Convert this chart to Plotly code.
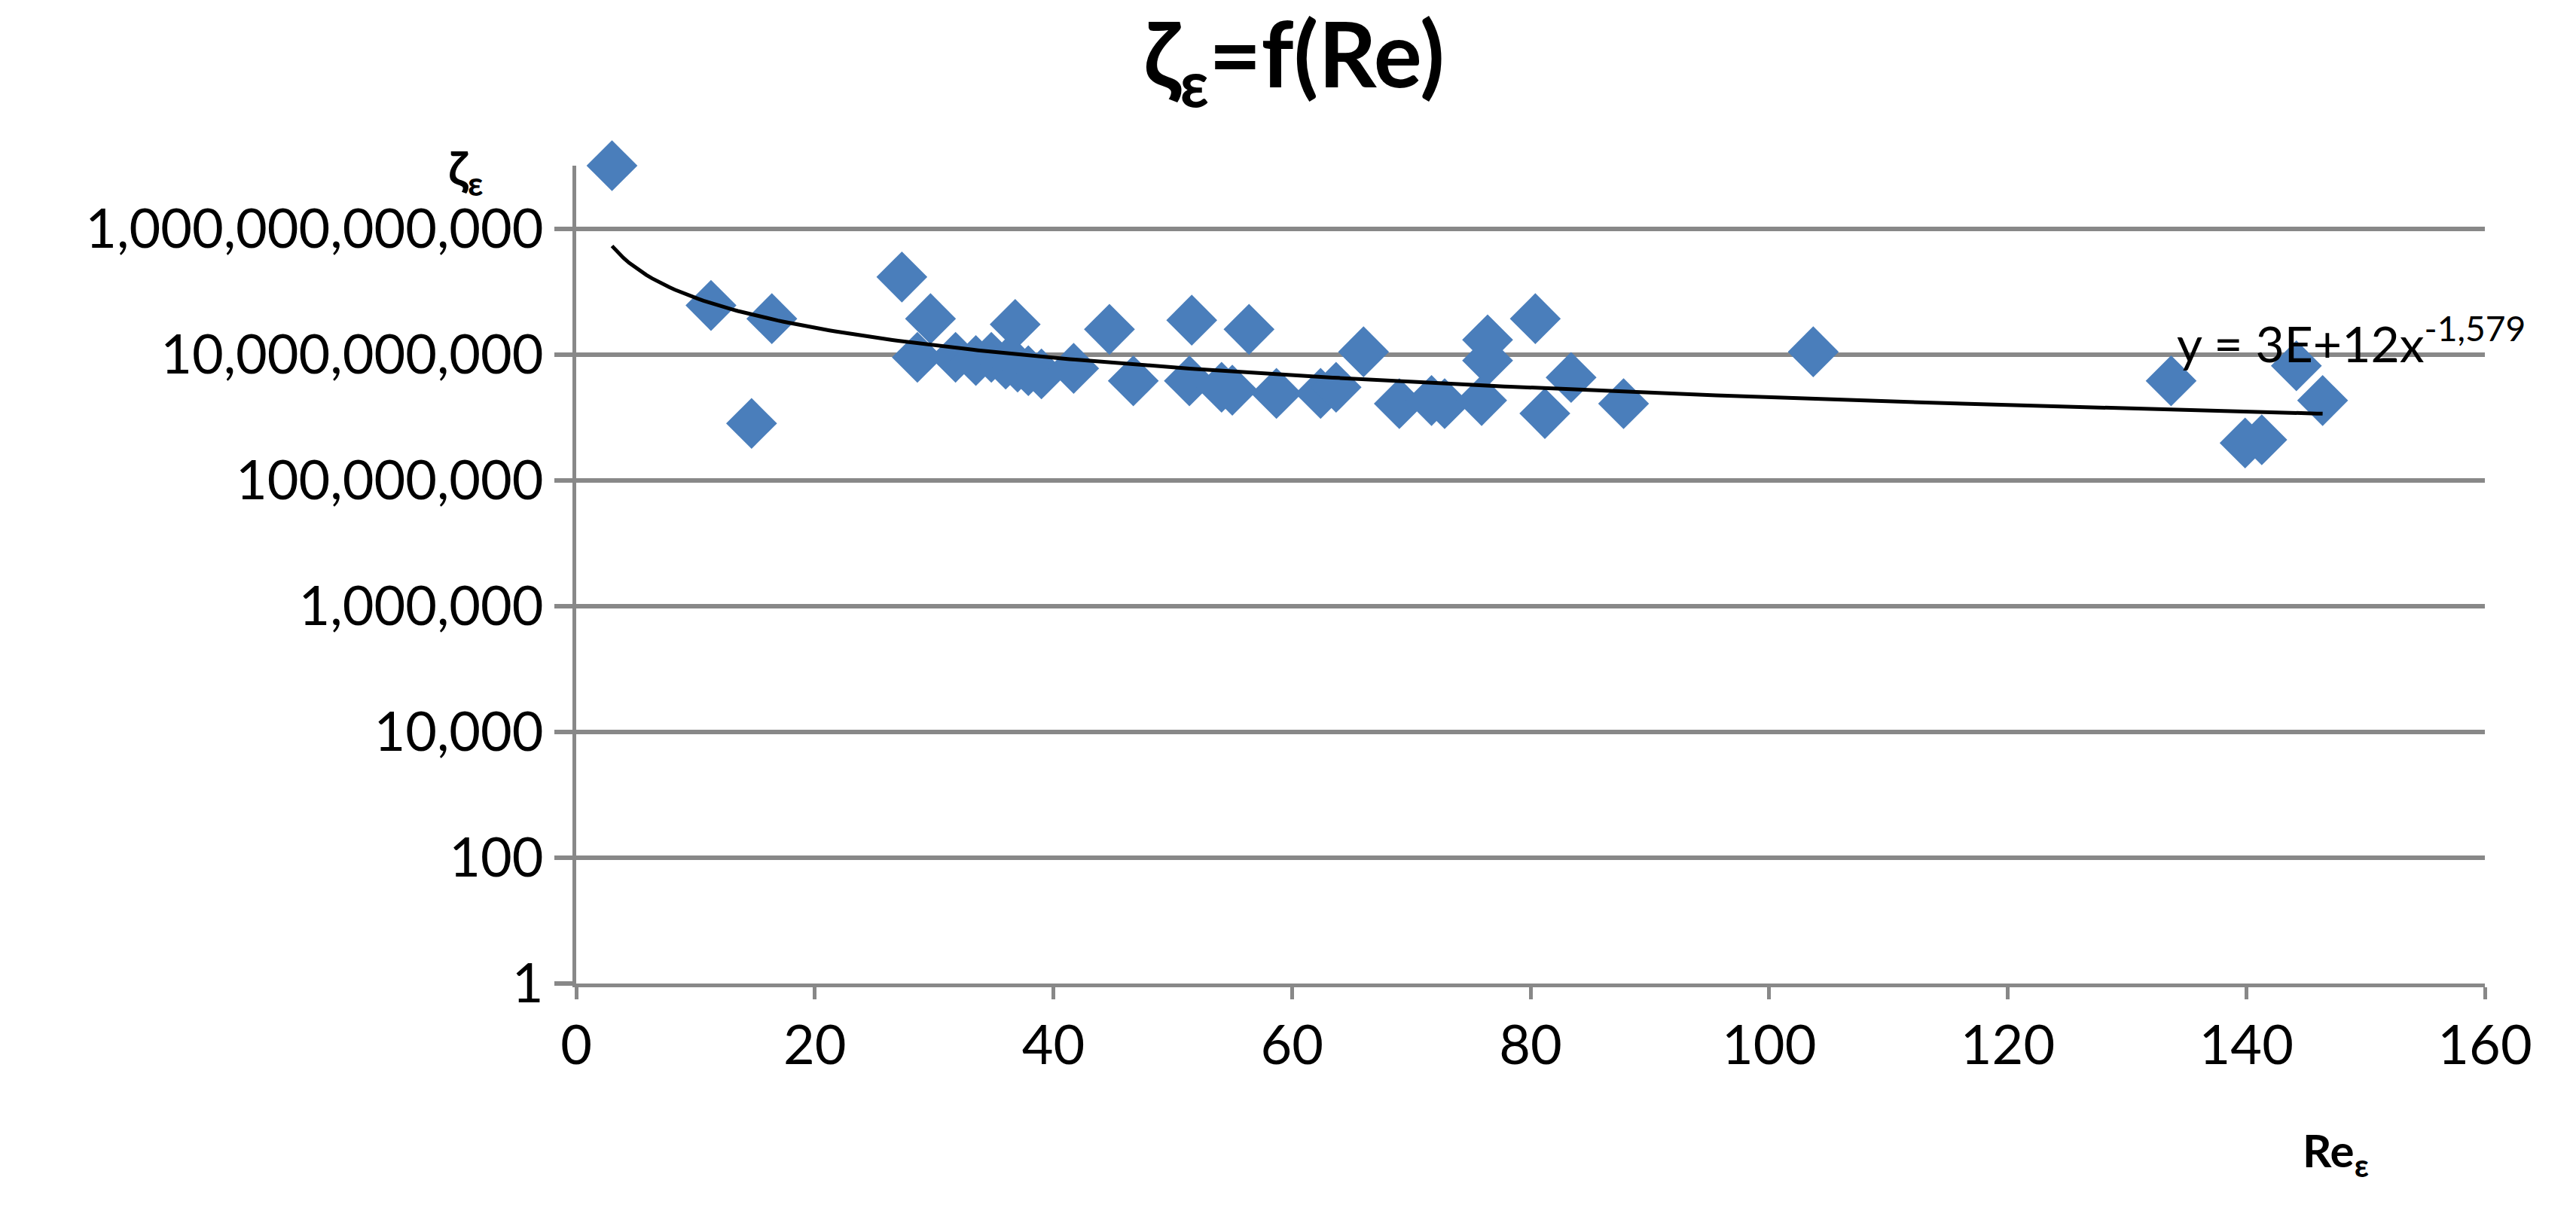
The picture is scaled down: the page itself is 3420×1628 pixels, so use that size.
import numpy as np
import plotly.graph_objects as go

re_vals = [3.0, 11.3, 14.7, 16.4, 27.3, 28.6, 29.7, 31.8, 33.5, 34.8, 36.0, 36.8, 37.0, 37.9, 39.0,
           41.7, 44.7, 46.7, 51.4, 51.6, 54.1, 55.0, 56.4, 58.7, 62.4, 63.7, 66.0, 69.0, 71.7, 72.8,
           75.9, 76.4, 76.4, 80.4, 81.2, 83.4, 87.8, 103.7, 133.7, 139.9, 141.3, 144.2, 146.4]
zeta_vals = [1.0e13, 6.0e10, 8.0e8, 3.7e10, 1.7e11, 9.0e9, 3.7e10, 9.0e9, 8.0e9, 9.0e9, 7.0e9, 3.0e10,
             6.3e9, 5.5e9, 4.9e9, 6.0e9, 2.5e10, 3.8e9, 3.8e9, 3.5e10, 3.0e9, 2.7e9, 2.5e10, 2.4e9,
             2.4e9, 3.0e9, 1.1e10, 1.65e9, 1.85e9, 1.65e9, 1.85e9, 8.0e9, 1.7e10, 3.7e10, 1.15e9,
             4.3e9, 1.65e9, 1.1e10, 3.8e9, 3.9e8, 4.4e8, 6.6e9, 1.85e9]
fit_a = 3e12
fit_b = -1.579
tick_vals = [1, 100, 10000, 1e6, 1e8, 1e10, 1e12]
tick_text = ["1", "100", "10,000", "1,000,000", "100,000,000", "10,000,000,000", "1,000,000,000,000"]

xf = np.linspace(min(re_vals), max(re_vals), 300)
yf = fit_a * xf ** fit_b

fig = go.Figure()
fig.add_trace(go.Scatter(x=re_vals, y=zeta_vals, mode="markers", cliponaxis=False,
                         marker=dict(symbol="diamond", size=52, color="#4a7ebb",
                                     line=dict(width=0)), showlegend=False))
fig.add_trace(go.Scatter(x=xf, y=yf, mode="lines", line=dict(color="black", width=5),
                         showlegend=False))

font = "Lato"
fig.update_layout(
    width=3420, height=1628, paper_bgcolor="white", plot_bgcolor="white",
    margin=dict(l=757, r=129, t=212, b=330),
    font=dict(family=font, size=72, color="black"),
    title=dict(text="<b>ζ<sub>ε</sub>=f(Re)</b>", x=0.5, xanchor="center", y=0.985, yanchor="top",
               font=dict(size=120, family=font)),
    xaxis=dict(range=[0, 160], tickvals=list(range(0, 161, 20)), showgrid=False,
               showline=True, linecolor="#888888", linewidth=5, ticks="outside",
               ticklen=16, tickwidth=5, tickcolor="#888888", zeroline=False,
               tickfont=dict(size=72)),
    yaxis=dict(type="log", range=[0, 13], tickvals=tick_vals, ticktext=tick_text,
               showgrid=True, gridcolor="#888888", gridwidth=6, showline=True,
               linecolor="#888888", linewidth=5, ticks="outside", ticklen=24, tickwidth=6,
               tickcolor="#888888", zeroline=False, tickfont=dict(size=72)),
    annotations=[
        dict(text="<b>ζ<sub>ε</sub></b>", xref="paper", yref="paper", x=-0.068, y=1.035,
             showarrow=False, font=dict(size=64)),
        dict(text="<b>Re<sub>ε</sub></b>", xref="paper", yref="paper", x=0.94, y=-0.247,
             showarrow=False, font=dict(size=60)),
        dict(text="y = 3E+12x<sup>-1,579</sup>", xref="paper", yref="paper", x=1.022, y=0.83,
             xanchor="right", showarrow=False, font=dict(size=66)),
    ],
)
fig.write_html("out.html")
